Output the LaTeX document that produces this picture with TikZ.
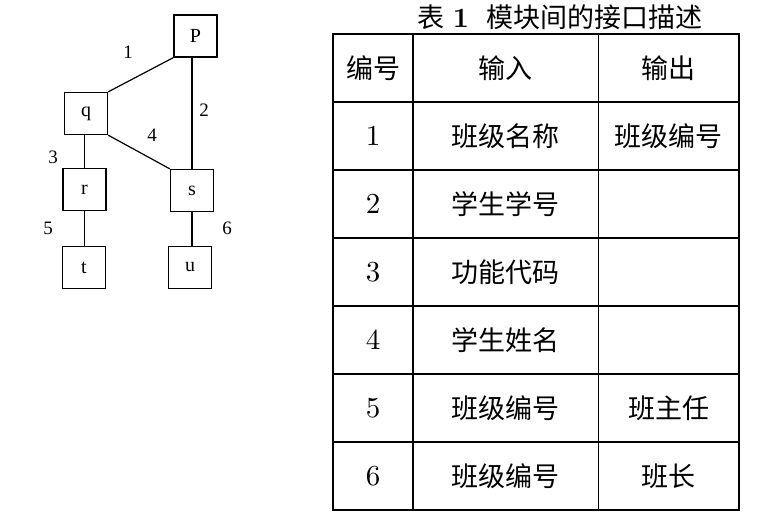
\documentclass[tikz,border=0pt]{standalone}
\usepackage{fontspec}
\usepackage{graphicx}
\newfontfamily\cjk{Noto Sans CJK SC}
\newfontfamily\tnr{Liberation Serif}
\newcommand{\bignum}[1]{\scalebox{2.9}{\fontsize{10}{12}\selectfont #1}}
\begin{document}
\begin{tikzpicture}[x=1pt,y=-1pt,
  box/.style={draw,line width=1.2pt,minimum width=43pt,minimum height=42pt,inner sep=0pt,font=\tnr\fontsize{20}{24}\selectfont},
  lbl/.style={inner sep=0pt,font=\tnr\fontsize{19}{23}\selectfont},
  link/.style={line width=1.2pt},
  cjkcell/.style={inner sep=0pt,font=\cjk\fontsize{27}{31}\selectfont},
  numcell/.style={inner sep=0pt},
  hline/.style={line width=1.5pt},
  thick vline/.style={line width=2pt},
  thin vline/.style={line width=1pt}]
\useasboundingbox (0,0) rectangle (766,516);
% ---- module diagram ----
\node[box] (P) at (195.5,36) {P};
\node[box] (q) at (86,113.5) {q};
\node[box] (r) at (84.5,189.5) {r};
\node[box] (s) at (192,190.5) {s};
\node[box] (t) at (84,267.5) {t};
\node[box] (u) at (190,267.5) {u};
\draw[link] (P.south west) -- (q.north east);
\draw[link] (P.south -| s.north) -- (s.north);
\draw[link] (q.south east) -- (s.north west);
\draw[link] (r.north) -- (r.north |- q.south);
\draw[link] (r.south) -- (r.south |- t.north);
\draw[link] (s.south) -- (s.south |- u.north);
\node[lbl] (l1) at (128,52) {1};
\node[lbl] (l2) at (204,110) {2};
\node[lbl] (l3) at (53,157) {3};
\node[lbl] (l4) at (152,135) {4};
\node[lbl] (l5) at (48,228) {5};
\node[lbl] (l6) at (227,228) {6};
% ---- table ----
\node[inner sep=0pt] (title) at (560,17) {\cjk\fontsize{27}{31}\selectfont 表\hspace{8pt}\scalebox{2.8}{\rmfamily\bfseries\fontsize{10}{12}\selectfont 1}\hspace{17pt}模块间的接口描述};
\foreach \y in {34,102,170,238,306,374,442} \draw[hline] (333,\y) -- (739,\y);
\draw[thick vline] (333,510) -- (739,510);
\draw[thick vline] (333,33) -- (333,511);
\draw[thick vline] (413,34) -- (413,510);
\draw[thin vline] (598,34) -- (598,510);
\draw[hline] (739,33) -- (739,511);
\node[cjkcell] (h1) at (373,68) {编号};
\node[cjkcell] (h2) at (505.5,68) {输入};
\node[cjkcell] (h3) at (668.5,68) {输出};
\node[numcell] (n1) at (373,136) {\bignum{1}};
\node[numcell] (n2) at (373,204) {\bignum{2}};
\node[numcell] (n3) at (373,272) {\bignum{3}};
\node[numcell] (n4) at (373,340) {\bignum{4}};
\node[numcell] (n5) at (373,408) {\bignum{5}};
\node[numcell] (n6) at (373,476) {\bignum{6}};
\node[cjkcell] (i1) at (505.5,136) {班级名称};
\node[cjkcell] (i2) at (505.5,204) {学生学号};
\node[cjkcell] (i3) at (505.5,272) {功能代码};
\node[cjkcell] (i4) at (505.5,340) {学生姓名};
\node[cjkcell] (i5) at (505.5,408) {班级编号};
\node[cjkcell] (i6) at (505.5,476) {班级编号};
\node[cjkcell] (o1) at (668.5,136) {班级编号};
\node[cjkcell] (o5) at (668.5,408) {班主任};
\node[cjkcell] (o6) at (668.5,476) {班长};
\end{tikzpicture}
\end{document}
